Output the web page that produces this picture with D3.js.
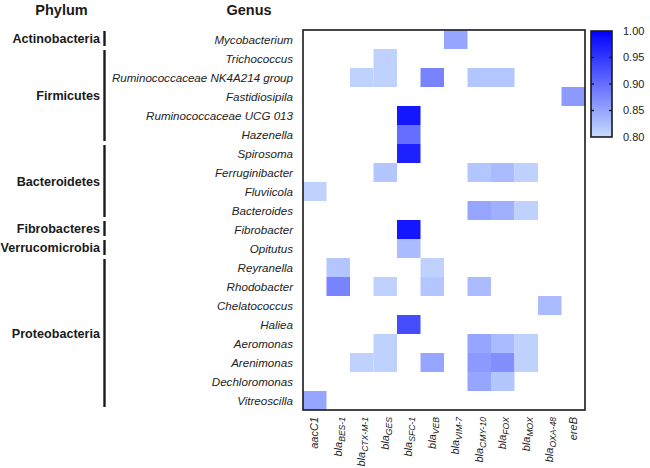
<!DOCTYPE html>
<html>
<head>
<meta charset="utf-8">
<script src="https://cdn.jsdelivr.net/npm/d3@7"></script>
<style>
  html, body { margin: 0; padding: 0; background: #fff; }
  svg { display: block; font-family: "Liberation Sans", Arial, sans-serif; }
</style>
</head>
<body>
<svg id="chart" width="650" height="468"></svg>
<script>
// ---------- DATA ----------
const genes = [
  {main: "aacC1", sub: ""},
  {main: "bla", sub: "BES-1"},
  {main: "bla", sub: "CTX-M-1"},
  {main: "bla", sub: "GES"},
  {main: "bla", sub: "SFC-1"},
  {main: "bla", sub: "VEB"},
  {main: "bla", sub: "VIM-7"},
  {main: "bla", sub: "CMY-10"},
  {main: "bla", sub: "FOX"},
  {main: "bla", sub: "MOX"},
  {main: "bla", sub: "OXA-48"},
  {main: "ereB", sub: ""}
];
const genera = [
  "Mycobacterium", "Trichococcus", "Ruminococcaceae NK4A214 group", "Fastidiosipila",
  "Ruminococcaceae UCG 013", "Hazenella", "Spirosoma", "Ferruginibacter", "Fluviicola",
  "Bacteroides", "Fibrobacter", "Opitutus", "Reyranella", "Rhodobacter", "Chelatococcus",
  "Haliea", "Aeromonas", "Arenimonas", "Dechloromonas", "Vitreoscilla"
];
const phyla = ["Actinobacteria", "Firmicutes", "Bacteroidetes", "Fibrobacteres", "Verrucomicrobia", "Proteobacteria"];
const phylumFirst = ["Mycobacterium", "Trichococcus", "Spirosoma", "Fibrobacter", "Opitutus", "Reyranella"];
const phylumLast  = ["Mycobacterium", "Hazenella", "Bacteroides", "Fibrobacter", "Opitutus", "Vitreoscilla"];
const _ = null;
// values per genus row, one per gene column
const values = [
  [_,    _,    _,    _,    _,    _,    0.85, _,    _,    _,    _,    _   ],
  [_,    _,    _,    0.81, _,    _,    _,    _,    _,    _,    _,    _   ],
  [_,    _,    0.81, 0.81, _,    0.88, _,    0.82, 0.82, _,    _,    _   ],
  [_,    _,    _,    _,    _,    _,    _,    _,    _,    _,    _,    0.86],
  [_,    _,    _,    _,    0.98, _,    _,    _,    _,    _,    _,    _   ],
  [_,    _,    _,    _,    0.90, _,    _,    _,    _,    _,    _,    _   ],
  [_,    _,    _,    _,    0.97, _,    _,    _,    _,    _,    _,    _   ],
  [_,    _,    _,    0.82, _,    _,    _,    0.82, 0.83, 0.81, _,    _   ],
  [0.81, _,    _,    _,    _,    _,    _,    _,    _,    _,    _,    _   ],
  [_,    _,    _,    _,    _,    _,    _,    0.85, 0.84, 0.81, _,    _   ],
  [_,    _,    _,    _,    0.98, _,    _,    _,    _,    _,    _,    _   ],
  [_,    _,    _,    _,    0.83, _,    _,    _,    _,    _,    _,    _   ],
  [_,    0.82, _,    _,    _,    0.81, _,    _,    _,    _,    _,    _   ],
  [_,    0.88, _,    0.81, _,    0.82, _,    0.83, _,    _,    _,    _   ],
  [_,    _,    _,    _,    _,    _,    _,    _,    _,    _,    0.83, _   ],
  [_,    _,    _,    _,    0.93, _,    _,    _,    _,    _,    _,    _   ],
  [_,    _,    _,    0.81, _,    _,    _,    0.85, 0.83, 0.81, _,    _   ],
  [_,    _,    0.81, 0.81, _,    0.85, _,    0.86, 0.87, 0.81, _,    _   ],
  [_,    _,    _,    _,    _,    _,    _,    0.85, 0.82, _,    _,    _   ],
  [0.85, _,    _,    _,    _,    _,    _,    _,    _,    _,    _,    _   ]
];
const legendTicks = [0.80, 0.85, 0.90, 0.95, 1.00];
const colorDomain = [0.80, 1.00];

// ---------- CHART ----------
const svg = d3.select("#chart");
const ink = "#1a1a1a";

const x = d3.scaleBand().domain(genes.map((g, i) => i)).range([303, 585]).padding(0);
const y = d3.scaleBand().domain(genera).range([30, 410]).padding(0);
const color = d3.scaleLinear().domain(colorDomain).range(["#c8dcff", "#0000ff"]).clamp(true);

// cells
const cells = [];
values.forEach((row, ri) => row.forEach((v, ci) => { if (v !== null) cells.push({g: genera[ri], c: ci, v}); }));
svg.append("g").selectAll("rect").data(cells).join("rect")
  .attr("x", d => x(d.c))
  .attr("y", d => y(d.g))
  .attr("width", x.bandwidth())
  .attr("height", y.bandwidth())
  .attr("fill", d => color(d.v));

// frame
svg.append("rect")
  .attr("x", x.range()[0]).attr("y", y.range()[0])
  .attr("width", x.range()[1] - x.range()[0])
  .attr("height", y.range()[1] - y.range()[0])
  .attr("fill", "none").attr("stroke", ink).attr("stroke-width", 1.6);

// genus labels
svg.append("g").selectAll("text").data(genera).join("text")
  .attr("x", 293)
  .attr("y", d => y(d) + y.bandwidth() / 2)
  .attr("dy", "0.36em")
  .attr("text-anchor", "end")
  .attr("font-size", 11.6)
  .attr("font-style", "italic")
  .attr("fill", "#222")
  .text(d => d);

// phylum labels and brackets
const groups = phyla.map((p, i) => ({
  name: p,
  top: y(phylumFirst[i]),
  bottom: y(phylumLast[i]) + y.bandwidth()
}));
svg.append("g").selectAll("line").data(groups).join("line")
  .attr("x1", 104.5).attr("x2", 104.5)
  .attr("y1", d => d.top + 1)
  .attr("y2", d => d.bottom - 3)
  .attr("stroke", ink).attr("stroke-width", 2.4);
svg.append("g").selectAll("text").data(groups).join("text")
  .attr("x", 100)
  .attr("y", d => (d.top + d.bottom) / 2 - 1)
  .attr("dy", "0.36em")
  .attr("text-anchor", "end")
  .attr("font-size", 12.6)
  .attr("font-weight", "bold")
  .attr("fill", ink)
  .text(d => d.name);

// headers
svg.append("text").attr("x", 61.5).attr("y", 15).attr("text-anchor", "middle")
  .attr("font-size", 14.5).attr("font-weight", "bold").attr("fill", ink).text("Phylum");
svg.append("text").attr("x", 249).attr("y", 15).attr("text-anchor", "middle")
  .attr("font-size", 14.5).attr("font-weight", "bold").attr("fill", ink).text("Genus");

// x labels (rotated)
const xl = svg.append("g").selectAll("text").data(genes).join("text")
  .attr("transform", (d, i) => `translate(${x(i) + x.bandwidth() / 2},417) rotate(-90)`)
  .attr("text-anchor", "end")
  .attr("dy", "0.33em")
  .attr("font-size", 11)
  .attr("font-style", "italic")
  .attr("fill", "#222");
xl.append("tspan").text(d => d.main);
xl.filter(d => d.sub).append("tspan")
  .attr("font-size", 8.6)
  .attr("dy", 3)
  .text(d => d.sub);

// colour legend
const ly = d3.scaleLinear().domain(colorDomain).range([137, 31]);
const lx0 = 591, lx1 = 612;
const defs = svg.append("defs");
const grad = defs.append("linearGradient").attr("id", "lg")
  .attr("x1", 0).attr("y1", 1).attr("x2", 0).attr("y2", 0);
d3.range(0, 1.0001, 0.1).forEach(t => {
  const v = colorDomain[0] + t * (colorDomain[1] - colorDomain[0]);
  grad.append("stop").attr("offset", t).attr("stop-color", color(v));
});
svg.append("rect").attr("x", lx0).attr("y", ly(1)).attr("width", lx1 - lx0)
  .attr("height", ly(0.8) - ly(1)).attr("fill", "url(#lg)")
  .attr("stroke", ink).attr("stroke-width", 1.6);
const inner = legendTicks.filter(t => t > colorDomain[0] && t < colorDomain[1]);
svg.append("g").selectAll("line.l").data(inner).join("line")
  .attr("x1", lx0).attr("x2", lx0 + 3).attr("y1", d => ly(d)).attr("y2", d => ly(d))
  .attr("stroke", ink).attr("stroke-width", 1.4);
svg.append("g").selectAll("line.r").data(inner).join("line")
  .attr("x1", lx1 - 3).attr("x2", lx1).attr("y1", d => ly(d)).attr("y2", d => ly(d))
  .attr("stroke", ink).attr("stroke-width", 1.4);
svg.append("g").selectAll("text").data(legendTicks).join("text")
  .attr("x", 623).attr("y", d => ly(d)).attr("dy", "0.36em")
  .attr("font-size", 11).attr("fill", "#222")
  .text(d => d3.format(".2f")(d));
</script>
</body>
</html>
